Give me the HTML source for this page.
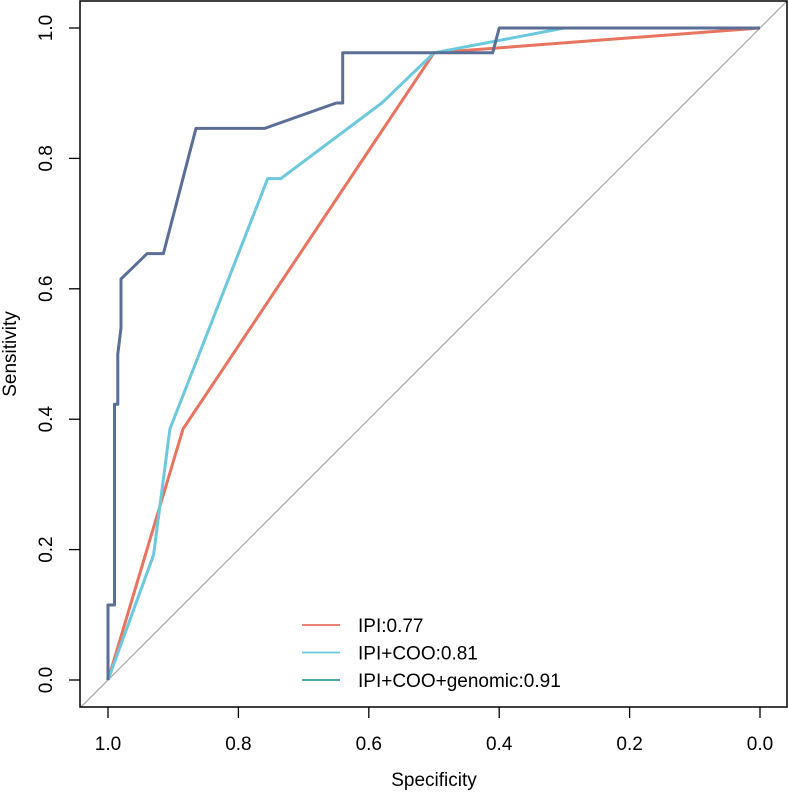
<!DOCTYPE html>
<html><head><meta charset="utf-8"><style>body{margin:0;background:#fff}svg{display:block;font-family:"Liberation Sans",Arial,sans-serif}</style></head>
<body>
<svg id="chart" width="788" height="792"></svg>
<script>
const xTicks=[1.0,0.8,0.6,0.4,0.2,0.0];
const yTicks=[0.0,0.2,0.4,0.6,0.8,1.0];
const xTickLabels=["1.0","0.8","0.6","0.4","0.2","0.0"];
const yTickLabels=["0.0","0.2","0.4","0.6","0.8","1.0"];
const ipiSpec=[1,0.885,0.5,0];
const ipiSens=[0,0.385,0.962,1];
const cooSpec=[1,0.93,0.905,0.755,0.735,0.58,0.5,0.3,0];
const cooSens=[0,0.192,0.385,0.769,0.769,0.885,0.962,1,1];
const genSpec=[1,1,0.99,0.99,0.985,0.985,0.98,0.98,0.94,0.915,0.875,0.865,0.76,0.65,0.64,0.64,0.41,0.40,0];
const genSens=[0,0.115,0.115,0.423,0.423,0.5,0.54,0.615,0.654,0.654,0.808,0.846,0.846,0.885,0.885,0.962,0.962,1,1];
const legendLabels=["IPI:0.77","IPI+COO:0.81","IPI+COO+genomic:0.91"];
const legendColors=["#E8735F","#6CC8DC","#3A9E99"];
const NS="http://www.w3.org/2000/svg";
const svg=document.getElementById('chart');
const X=v=>108+(1-v)*652;
const Y=v=>680-v*652;
function mk(t,a,p){const e=document.createElementNS(NS,t);for(const k in a)e.setAttribute(k,a[k]);(p||svg).appendChild(e);return e;}
const defs=mk('defs',{});const cp=mk('clipPath',{id:'clip'},defs);mk('rect',{x:80,y:1,width:707,height:706},cp);
const diag=mk('line',{x1:X(1.05),y1:Y(-0.05),x2:X(-0.05),y2:Y(1.05),stroke:'#aaa','stroke-width':1.3,'clip-path':'url(#clip)'});


function series(sp,se,col,name){const d=sp.map((s,i)=>(i?'L':'M')+X(s).toFixed(1)+' '+Y(se[i]).toFixed(1)).join(' ');
const p=mk('path',{d:d,fill:'none',stroke:col,'stroke-width':3,'stroke-linejoin':'round'});

}
series(ipiSpec,ipiSens,'#E8735F','ipi-roc-curve');
series(cooSpec,cooSens,'#6CC8DC','ipi-coo-roc-curve');
series(genSpec,genSens,'#5A6E96','ipi-coo-genomic-roc-curve');
const box=mk('path',{d:'M80 1 H787 V707 H80 Z',fill:'none',stroke:'#000','stroke-width':1.5});


xTicks.forEach((v,i)=>{const l=mk('line',{x1:X(v),x2:X(v),y1:707,y2:718,stroke:'#000','stroke-width':1.3});


const t=mk('text',{x:X(v),y:750,'text-anchor':'middle','font-size':19});t.textContent=xTickLabels[i];

});
yTicks.forEach((v,i)=>{const l=mk('line',{x1:69,x2:80,y1:Y(v),y2:Y(v),stroke:'#000','stroke-width':1.3});


const t=mk('text',{x:0,y:0,transform:`translate(52 ${Y(v)}) rotate(-90)`,'text-anchor':'middle','font-size':19});t.textContent=yTickLabels[i];

});
const xt=mk('text',{x:434,y:786,'text-anchor':'middle','font-size':19});xt.textContent='Specificity';


const yt=mk('text',{x:0,y:0,transform:'translate(16 354) rotate(-90)','text-anchor':'middle','font-size':19});yt.textContent='Sensitivity';


legendLabels.forEach((lab,i)=>{const y=625+i*27.5;
const l=mk('line',{x1:302,x2:340,y1:y,y2:y,stroke:legendColors[i],'stroke-width':1.8});


const t=mk('text',{x:358,y:y+7,'font-size':19});t.textContent=lab;

});
</script>
</body></html>
